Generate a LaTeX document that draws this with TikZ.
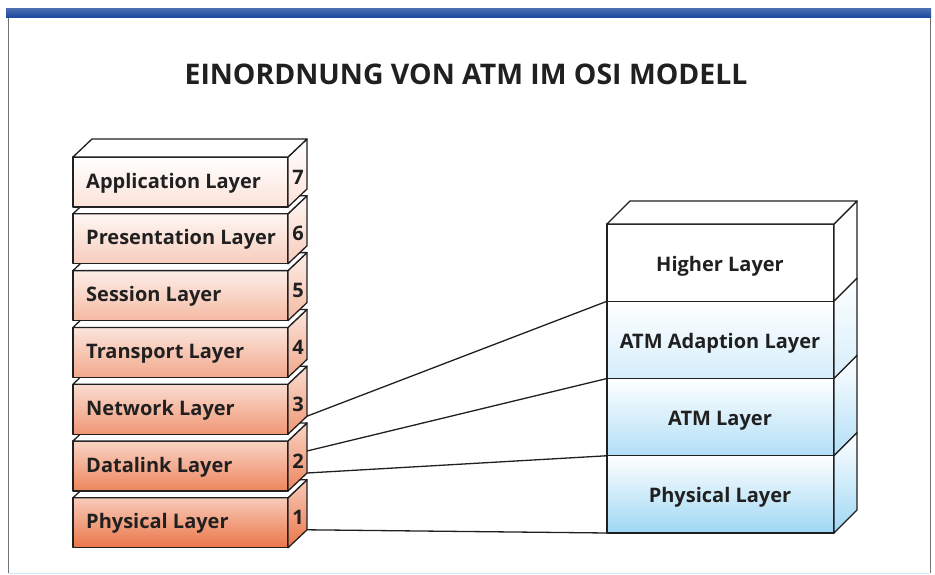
\documentclass[tikz,border=0pt]{standalone}
\usepackage{fontspec}
\setmainfont{Open Sans}
\usetikzlibrary{calc}
\definecolor{osiorange}{RGB}{234,110,62}
\definecolor{atmblue}{RGB}{135,205,242}
\definecolor{frameblue}{RGB}{26,70,158}
\definecolor{ink}{RGB}{32,32,32}
\tikzset{
  edge/.style={draw=ink, line width=1.3pt, line join=round},
  lbl/.style={font=\bfseries\fontsize{20}{24}\selectfont, text=ink, anchor=west, inner sep=0pt},
  rlbl/.style={font=\bfseries\fontsize{20}{24}\selectfont, text=ink, inner sep=0pt},
  num/.style={font=\bfseries\fontsize{20}{24}\selectfont, text=ink, inner sep=0pt},
  link/.style={draw=ink, line width=1.3pt},
  titlestyle/.style={font=\bfseries\fontsize{28.4}{32}\selectfont, text=ink, inner sep=0pt},
}
\begin{document}
\begin{tikzpicture}[x=1pt,y=-1pt]
\useasboundingbox (0,0) rectangle (935,575);
\fill[white] (0,0) rectangle (935,575);
% frame
\shade[top color=frameblue!80, bottom color=frameblue] (6,9) rectangle (931,18);
\draw[black!55, line width=1pt] (8,18) -- (8,573);
\draw[black!55, line width=1pt] (930,18) -- (930,573);
\draw[atmblue!40, line width=1pt] (8,573) -- (930,573);
% title
\node[titlestyle] (title) at (466,74) {EINORDNUNG VON ATM IM OSI MODELL};
% left OSI stack, drawn bottom to top
\foreach \k/\txt/\tp/\bt in {1/Physical Layer/36/95, 2/Datalink Layer/30/84, 3/Network Layer/24/72, 4/Transport Layer/18/60, 5/Session Layer/12/48, 6/Presentation Layer/6/35, 7/Application Layer/0/20}{
  \pgfmathsetmacro\yt{157+(7-\k)*56.8}
  \pgfmathsetmacro\yb{\yt+50}
  \coordinate (L\k a) at (73,\yt);
  \coordinate (L\k b) at (288,\yt);
  \coordinate (L\k c) at (288,\yb);
  \coordinate (L\k d) at (73,\yb);
  \coordinate (L\k e) at (92,\yt-18);
  \coordinate (L\k f) at (307,\yt-18);
  \coordinate (L\k g) at (307,\yb-18);
  \path[edge, top color=osiorange!\tp!white, bottom color=osiorange!\bt!white] (L\k a) rectangle (L\k c);
  \path[edge, top color=osiorange!\tp!white, bottom color=osiorange!\bt!white] (L\k b) -- (L\k f) -- (L\k g) -- (L\k c) -- cycle;
  \path[edge, fill=white] (L\k a) -- (L\k e) -- (L\k f) -- (L\k b) -- cycle;
  \node[lbl] (L\k t) at (86,\yt+26) {\txt};
  \node[num] (L\k n) at (298,\yt+20) {\k};
}
% right ATM stack
\foreach \j/\txt/\bt in {1/Higher Layer/0, 2/ATM Adaption Layer/35, 3/ATM Layer/65, 4/Physical Layer/80}{
  \pgfmathsetmacro\yt{224+(\j-1)*77.25}
  \pgfmathsetmacro\yb{\yt+77.25}
  \coordinate (R\j a) at (607,\yt);
  \coordinate (R\j b) at (834,\yt);
  \coordinate (R\j c) at (834,\yb);
  \coordinate (R\j d) at (607,\yb);
  \coordinate (R\j f) at (857,\yt-23);
  \coordinate (R\j g) at (857,\yb-23);
  \path[edge, top color=white, bottom color=atmblue!\bt!white] (R\j a) rectangle (R\j c);
  \path[edge, top color=white, bottom color=atmblue!\bt!white] (R\j b) -- (R\j f) -- (R\j g) -- (R\j c) -- cycle;
  \node[rlbl] (R\j t) at (720,\yt+42) {\txt};
}
\coordinate (R1e) at (630,201);
\path[edge, fill=white] (R1a) -- (R1e) -- (R1f) -- (R1b) -- cycle;
% connectors
\coordinate (L2m) at ($(L2f)!0.56!(L2g)$);
\draw[link] (L3g) -- (R1d);
\draw[link] (L2m) -- (R2d);
\draw[link] (L2g) -- (R3d);
\draw[link] (L1g) -- (R4d);
\end{tikzpicture}
\end{document}
